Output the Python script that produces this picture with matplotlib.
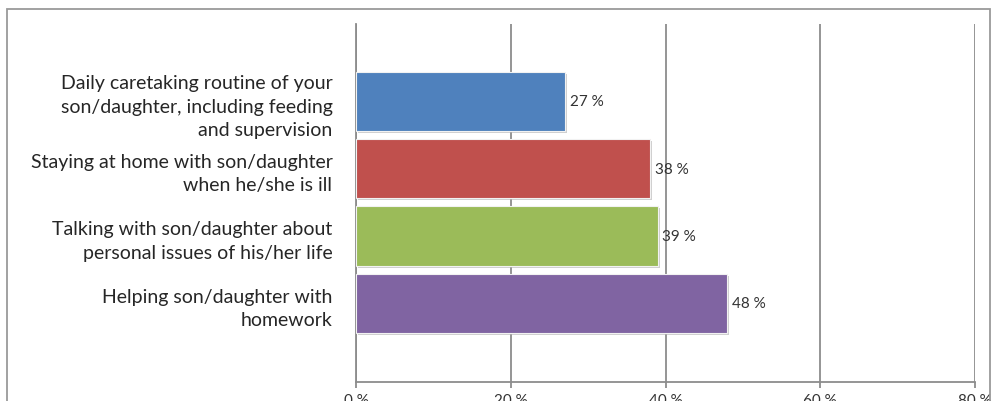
import matplotlib
matplotlib.use('Agg')
import matplotlib.pyplot as plt
import matplotlib.patches as mpatches
import matplotlib.patheffects as pe
from matplotlib.ticker import FuncFormatter

plt.rcParams['font.family'] = ['Lato', 'DejaVu Sans']

categories = ['Daily caretaking routine of your\nson/daughter, including feeding\nand supervision',
              'Staying at home with son/daughter\nwhen he/she is ill',
              'Talking with son/daughter about\npersonal issues of his/her life',
              'Helping son/daughter with\nhomework']
values = [27, 38, 39, 48]
colors = ['#4f81bd', '#c0504d', '#9bbb59', '#8064a2']
xticks = [0, 20, 40, 60, 80]

fig = plt.figure(figsize=(9.93, 4.02), dpi=100)

# outer chart frame, runs off the bottom edge
frame = mpatches.Rectangle((7 / 993, -0.1), (990 - 7) / 993, 1.1 - 10 / 402,
                           transform=fig.transFigure, fill=False,
                           edgecolor='#9a9a9a', linewidth=1.3, zorder=0)
fig.patches.append(frame)

ax = fig.add_axes([356 / 993, 19 / 402, (975 - 356) / 993, (383 - 25) / 402])

ypos = list(range(len(categories)))
bars = ax.barh(ypos, values, height=0.88, color=colors, edgecolor='#f2f2f2',
               linewidth=0.8, zorder=3)
for b in bars:
    b.set_path_effects([pe.SimplePatchShadow(offset=(1.5, -1.5), shadow_rgbFace='#b0b0b0', alpha=0.6),
                        pe.Normal()])

for y, v in zip(ypos, values):
    ax.text(v + 0.6, y, '%d %%' % v, va='center', ha='left', fontsize=11,
            color='#333333', zorder=4)

ax.set_xlim(0, 80)
ax.set_ylim(3 + 1.17, -1.15)
ax.set_xticks(xticks)
ax.xaxis.set_major_formatter(FuncFormatter(lambda x, p: '%d %%' % x))
ax.set_yticks(ypos)
ax.set_yticklabels(categories, fontsize=14, color='#262626', linespacing=1.45)
for lbl in ax.get_yticklabels():
    lbl.set_multialignment('right')

ax.grid(axis='x', color='#8c8c8c', linewidth=1.3, zorder=1)
for s in ['top', 'right']:
    ax.spines[s].set_visible(False)
ax.spines['left'].set_color('#8c8c8c')
ax.spines['bottom'].set_color('#8c8c8c')
ax.spines['left'].set_linewidth(1.3)
ax.spines['bottom'].set_linewidth(1.3)
ax.tick_params(axis='x', length=4, width=1.3, color='#8c8c8c', labelsize=11,
               labelcolor='#333333', pad=4)
ax.tick_params(axis='y', length=0, pad=17)

fig.savefig('out.png', dpi=100)
